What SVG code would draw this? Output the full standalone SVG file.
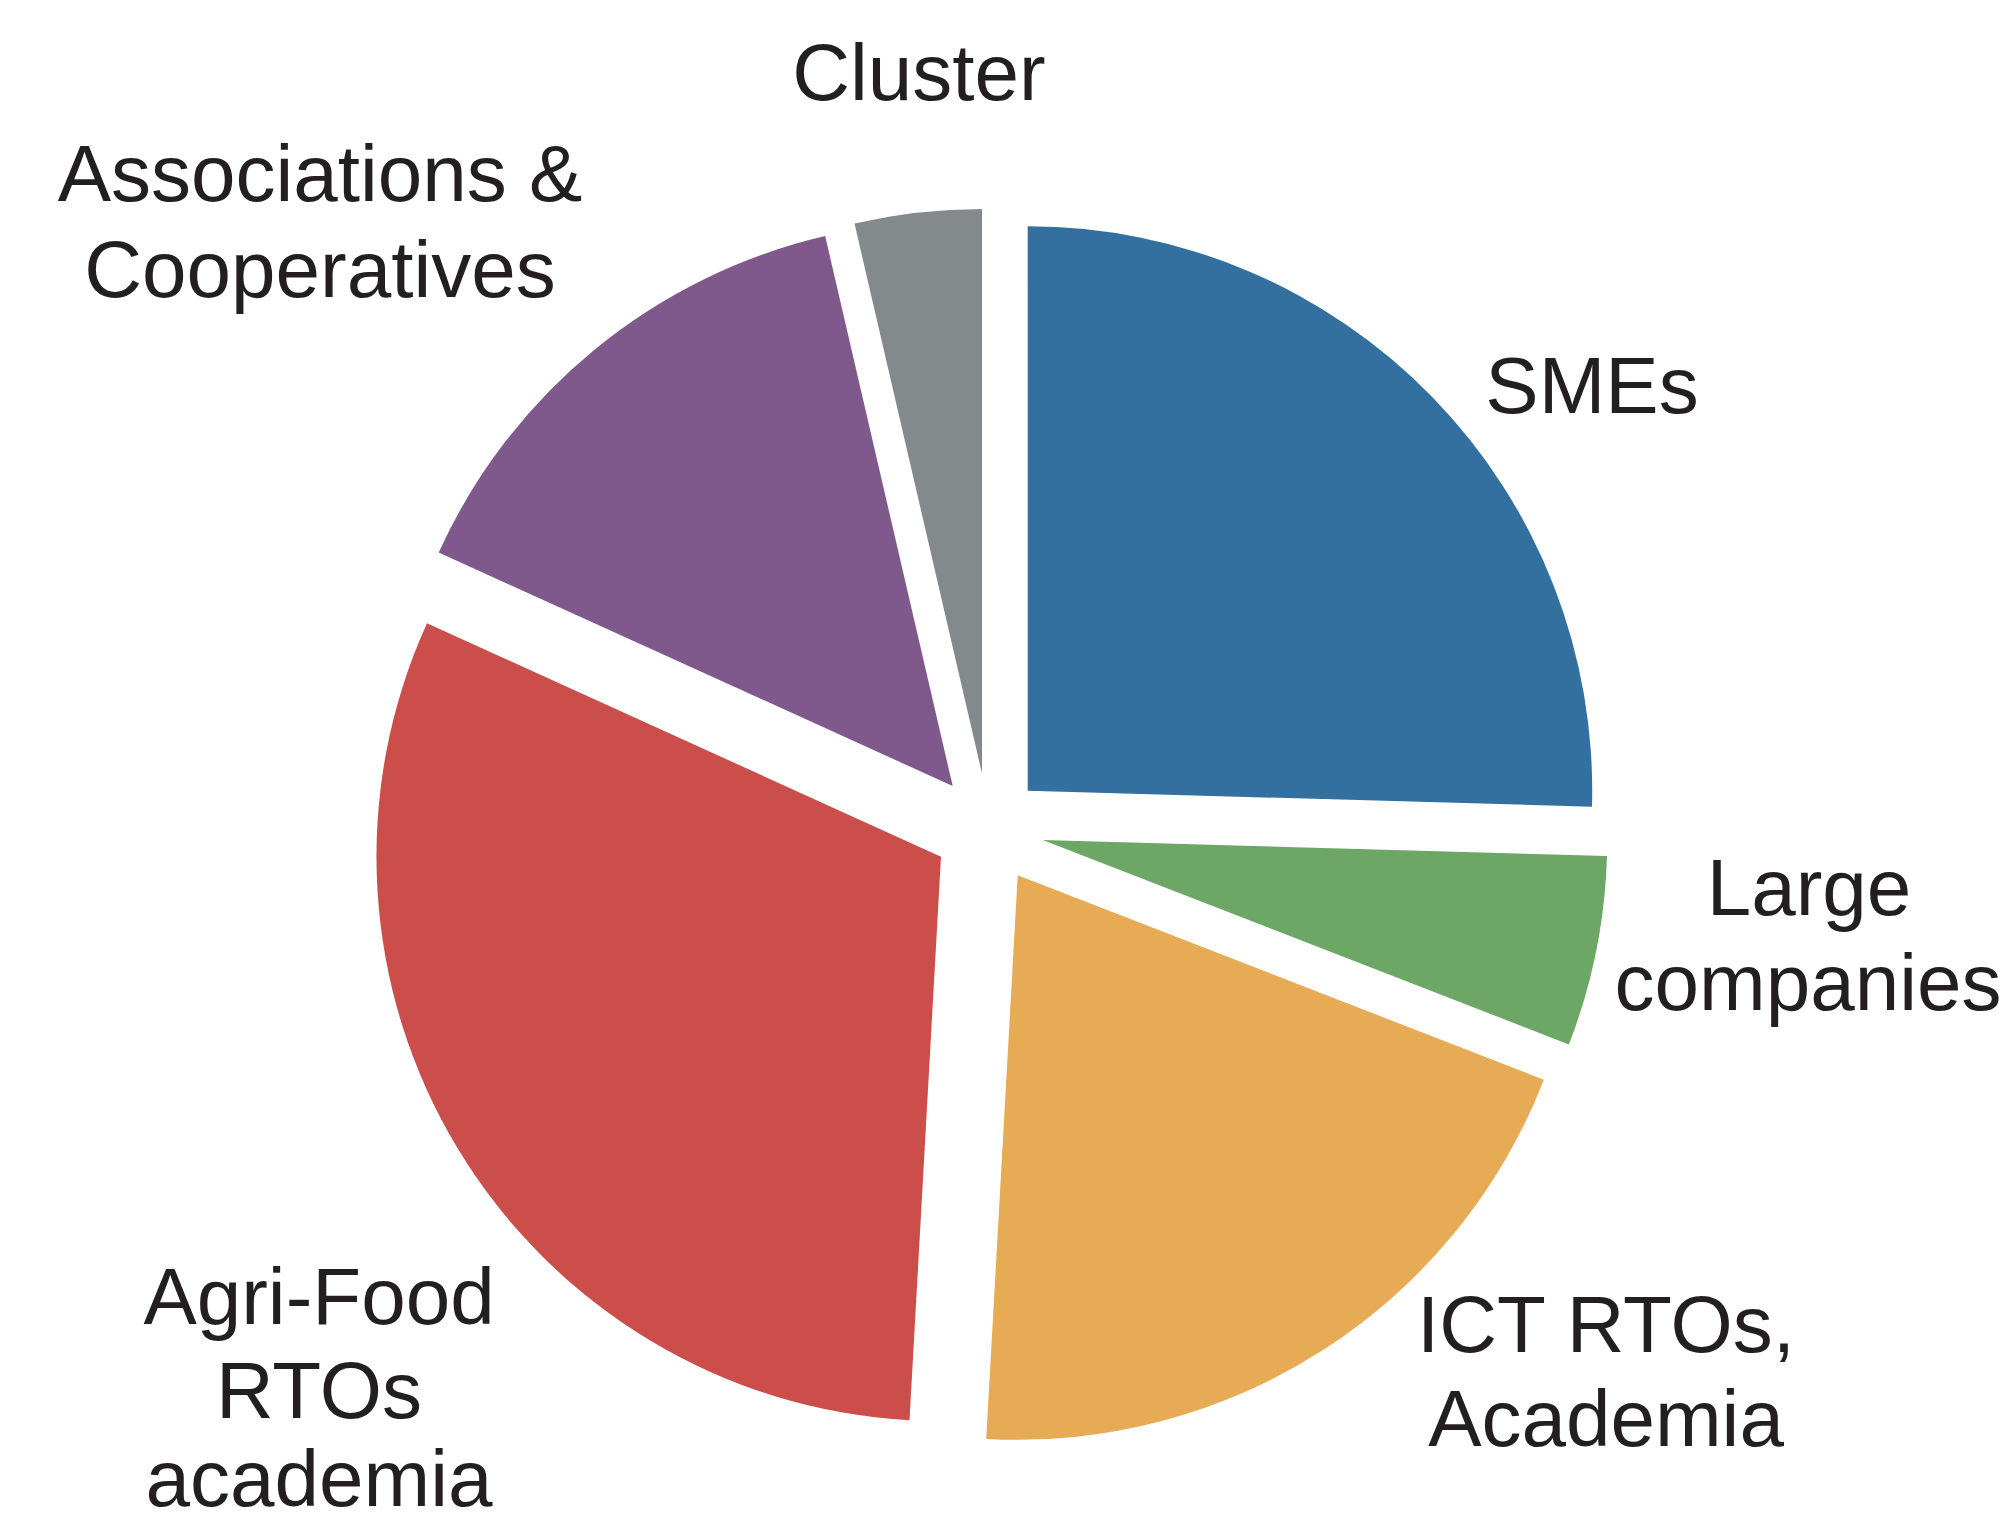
<svg xmlns="http://www.w3.org/2000/svg" width="2015" height="1527" viewBox="0 0 2015 1527">
<style>
.lbl{font-family:"Liberation Sans",Arial,sans-serif;font-size:80px;fill:#231F20;text-anchor:middle}
</style>
<rect width="2015" height="1527" fill="#ffffff"/>
<g id="slice-smes"><path d="M1027.7,790.7 L1027.7,226.2 A564.5,564.5 0 0 1 1592.0,806.7 Z" fill="#34709F"/></g>
<g id="slice-large"><path d="M1042.7,840 L1607.0,856.0 A564.5,564.5 0 0 1 1568.9,1044.4 Z" fill="#6DA766"/></g>
<g id="slice-ict"><path d="M1017.7,875.3 L1543.9,1079.7 A564.5,564.5 0 0 1 986.2,1438.9 Z" fill="#E8AB55"/></g>
<g id="slice-agri"><path d="M941,856.7 L909.5,1420.3 A564.5,564.5 0 0 1 427.0,623.2 Z" fill="#CB4E4B"/></g>
<g id="slice-assoc"><path d="M952.7,786 L438.7,552.5 A564.5,564.5 0 0 1 825.2,236.1 Z" fill="#7F588C"/></g>
<g id="slice-cluster"><path d="M982,773.5 L854.5,223.6 A564.5,564.5 0 0 1 982,209 Z" fill="#848A8C"/></g>
<g id="connectors"></g>
<g id="labels">
<text class="lbl" x="919" y="100">Cluster</text>
<text class="lbl" x="320" y="201">Associations &amp;</text>
<text class="lbl" x="320" y="297">Cooperatives</text>
<text class="lbl" x="1592" y="413">SMEs</text>
<text class="lbl" x="1809" y="915">Large</text>
<text class="lbl" x="1808" y="1010">companies</text>
<text class="lbl" x="1606" y="1352">ICT RTOs,</text>
<text class="lbl" x="1606" y="1446">Academia</text>
<text class="lbl" x="319" y="1324">Agri-Food</text>
<text class="lbl" x="319" y="1418">RTOs</text>
<text class="lbl" x="319" y="1506">academia</text>
</g>
</svg>
